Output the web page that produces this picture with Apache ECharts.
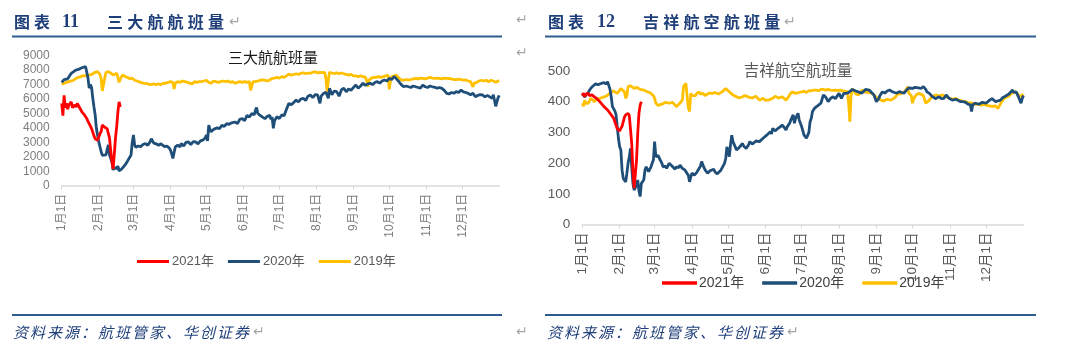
<!DOCTYPE html>
<html><head><meta charset="utf-8">
<script src="https://cdn.jsdelivr.net/npm/echarts@6/dist/echarts.min.js"></script>
<style>html,body{margin:0;padding:0;background:#fff}#c{width:1080px;height:357px}</style>
</head><body><div id="c"></div>
<script>
// ---------- DATA (day-of-year index, value) ----------
const seriesNames = ['2021年', '2020年', '2019年'];
const monthLabels = ['1月1日','2月1日','3月1日','4月1日','5月1日','6月1日','7月1日','8月1日','9月1日','10月1日','11月1日','12月1日'];
const leftYMax = 9000, leftYStep = 1000;
const rightYMax = 500, rightYStep = 100;

// 三大航航班量
const big3_2021 = [[0,5700],[1,4850],[2,6250],[3,5400],[4,5700],[5,5300],[6,5600],[7,5500],[8,5800],[9,5400],[10,5500],[11,5600],[12,5450],[13,5700],[14,5800],[15,5400],[16,5350],[17,5100],[18,5000],[19,4900],[20,4800],[21,4650],[22,4450],[23,4300],[24,4200],[25,3950],[26,3850],[27,3450],[28,3250],[29,3200],[30,3150],[31,3100],[32,3600],[33,3750],[34,4200],[35,4100],[36,4050],[37,4150],[38,3950],[39,3850],[40,3300],[41,2400],[42,1700],[43,1150],[44,2200],[45,3300],[46,4100],[47,5100],[48,5800],[49,5450]];
const big3_2020 = [[0,7150],[2,7350],[3,7440],[5,7400],[6,7450],[8,7780],[10,7900],[12,8010],[14,8050],[16,8130],[18,8200],[20,8240],[21,8200],[22,7450],[23,6750],[24,7000],[25,6800],[26,6050],[27,5450],[28,4900],[29,3970],[30,3500],[31,3050],[32,2700],[33,2350],[34,2100],[35,2010],[37,2130],[38,2500],[39,2820],[40,2130],[41,1900],[42,1660],[43,1090],[44,1250],[46,1200],[47,1350],[48,1030],[50,1150],[51,1080],[53,1430],[55,1700],[56,1780],[58,2130],[59,3000],[60,3510],[61,2820],[62,2650],[64,2750],[66,2700],[68,2850],[70,2920],[72,2800],[74,3050],[75,3250],[77,2950],[79,2900],[81,2800],[83,2900],[86,2700],[88,2750],[90,2600],[91,2460],[92,2200],[93,1890],[94,2300],[95,2690],[97,2800],[99,2700],[100,2920],[102,2750],[104,3000],[106,3030],[108,2850],[110,3050],[112,3030],[114,2900],[116,3100],[118,3150],[120,3300],[121,3500],[122,3100],[123,4190],[124,3900],[125,3730],[127,3900],[128,3840],[130,4000],[132,3950],[134,4190],[136,4100],[138,4300],[140,4250],[142,4350],[145,4410],[147,4300],[149,4600],[151,4640],[153,4500],[155,4870],[157,4750],[159,5000],[161,4900],[162,5210],[163,5420],[164,5000],[166,4870],[168,4750],[170,4640],[172,4800],[174,4870],[175,4600],[176,4750],[177,3970],[178,4500],[180,4780],[182,4650],[184,4900],[186,4850],[188,5300],[190,5700],[192,5600],[194,5750],[196,5930],[198,5800],[200,6000],[202,6050],[204,5900],[206,6200],[208,6280],[210,6100],[212,6300],[214,6280],[216,5700],[217,6200],[219,6390],[221,6470],[223,6050],[224,6740],[226,6300],[228,6550],[230,6510],[232,6200],[234,6650],[236,6740],[238,6500],[240,6700],[242,6600],[244,6800],[246,6970],[248,6750],[250,6900],[252,7090],[254,6950],[256,7050],[258,7090],[260,7000],[262,7150],[264,7200],[266,7100],[268,7250],[270,7320],[272,7250],[274,7430],[276,7350],[278,7550],[280,7400],[282,7200],[284,7000],[286,6850],[288,6900],[290,6850],[292,6800],[294,6900],[296,6850],[298,6800],[300,6750],[302,6970],[304,6850],[306,6800],[308,6900],[310,6850],[312,6820],[314,6750],[316,6800],[318,6740],[320,6600],[322,6390],[324,6350],[326,6450],[328,6400],[330,6510],[332,6450],[334,6620],[336,6500],[338,6450],[340,6390],[342,6300],[344,6400],[346,6160],[348,6250],[350,6300],[352,6280],[354,6150],[356,6250],[358,6150],[360,6050],[361,6300],[362,5900],[363,5500],[364,5800],[365,6100],[366,6250]];
const big3_2019 = [[0,7020],[2,7090],[4,7150],[6,7200],[8,7250],[10,7300],[12,7440],[14,7500],[16,7550],[18,7620],[20,7600],[22,7650],[24,7670],[26,7750],[28,7850],[30,7900],[31,7850],[32,7700],[33,7400],[34,6560],[35,7000],[36,7440],[37,7850],[39,7890],[40,7900],[41,7800],[43,7670],[44,7700],[46,7780],[47,7500],[48,7150],[49,7400],[51,7670],[53,7560],[55,7500],[57,7400],[59,7440],[61,7300],[63,7250],[64,7200],[66,7150],[68,7100],[70,7090],[72,7050],[74,7000],[75,6970],[77,7050],[79,7000],[81,7050],[83,7000],[85,7100],[87,7090],[89,7150],[91,7200],[93,7150],[94,6700],[95,7100],[97,7200],[99,7150],[101,7250],[103,7200],[105,7150],[107,7100],[109,7050],[111,7200],[113,7150],[115,7200],[117,7200],[119,7250],[121,7300],[123,7150],[125,7090],[127,7250],[129,7200],[131,7150],[133,7200],[135,7250],[137,7200],[139,7250],[141,7150],[143,7200],[145,7090],[147,7150],[149,7200],[151,7150],[153,7200],[155,7150],[157,7200],[158,6600],[159,6900],[160,7200],[162,7200],[164,7250],[166,7300],[168,7320],[170,7300],[172,7250],[174,7320],[176,7430],[178,7450],[180,7500],[182,7450],[184,7550],[186,7500],[188,7600],[190,7730],[192,7650],[194,7700],[196,7750],[198,7700],[200,7780],[202,7820],[204,7750],[206,7800],[208,7780],[210,7850],[212,7890],[214,7800],[216,7850],[218,7820],[220,7850],[221,7400],[222,6510],[223,7300],[224,7850],[226,7800],[228,7750],[230,7820],[232,7750],[234,7800],[236,7750],[238,7700],[240,7660],[242,7700],[244,7600],[246,7600],[248,7550],[250,7600],[252,7550],[254,7500],[255,7300],[256,6850],[257,7300],[259,7450],[261,7500],[263,7500],[265,7550],[267,7500],[269,7550],[271,7600],[273,7660],[274,6670],[275,7300],[276,7550],[278,7600],[280,7660],[282,7450],[284,7320],[286,7300],[288,7350],[290,7320],[292,7350],[294,7400],[296,7430],[298,7400],[300,7450],[302,7430],[304,7400],[306,7450],[308,7500],[310,7450],[312,7430],[314,7450],[316,7430],[318,7400],[320,7450],[322,7430],[324,7420],[326,7400],[328,7350],[330,7350],[332,7380],[334,7350],[336,7300],[338,7320],[340,7250],[342,7200],[343,7000],[344,6850],[345,7100],[347,7150],[349,7250],[351,7300],[353,7250],[355,7300],[357,7200],[359,7300],[361,7250],[363,7150],[365,7250],[366,7250]];

// 吉祥航空航班量
const jx_2021 = [[0,420],[1,428],[2,416],[3,425],[5,427],[6,420],[8,422],[9,418],[10,416],[12,410],[13,405],[15,398],[16,395],[18,384],[19,380],[21,373],[22,368],[24,357],[26,346],[27,335],[28,324],[29,312],[30,308],[31,305],[32,313],[33,320],[34,335],[35,350],[36,357],[37,360],[38,362],[39,355],[40,351],[41,264],[42,177],[43,118],[44,112],[45,210],[46,297],[47,362],[48,389],[49,400]];
const jx_2020 = [[0,427],[1,432],[2,415],[3,422],[5,430],[6,438],[8,448],[9,454],[11,458],[13,455],[16,460],[18,462],[20,458],[21,465],[22,462],[23,440],[24,416],[25,384],[26,378],[27,370],[28,357],[29,319],[30,280],[31,253],[32,243],[33,177],[34,150],[35,145],[36,139],[37,167],[38,200],[39,221],[40,248],[41,188],[42,134],[43,112],[44,120],[45,129],[46,145],[47,110],[48,91],[49,134],[50,140],[51,145],[52,177],[53,188],[55,172],[57,188],[58,200],[59,210],[60,270],[61,221],[63,225],[64,215],[66,200],[67,188],[69,190],[70,183],[72,199],[74,192],[75,188],[77,180],[78,188],[80,185],[81,194],[83,183],[85,178],[86,177],[88,160],[89,139],[90,155],[91,167],[93,161],[95,170],[96,177],[98,190],[99,205],[101,185],[102,177],[104,167],[106,175],[107,177],[109,180],[110,172],[112,165],[113,167],[115,177],[116,178],[118,199],[119,215],[120,253],[121,240],[122,221],[123,260],[124,291],[125,270],[126,264],[128,243],[130,250],[131,253],[133,264],[134,255],[136,248],[138,260],[139,270],[141,262],[142,259],[144,272],[145,275],[147,270],[148,272],[150,281],[151,280],[153,291],[154,285],[156,302],[157,295],[158,313],[160,305],[161,302],[163,315],[164,319],[166,324],[167,318],[169,308],[170,318],[172,330],[173,340],[175,357],[176,330],[177,346],[179,362],[180,340],[182,319],[184,291],[185,285],[186,281],[187,275],[188,300],[189,335],[190,346],[191,368],[193,380],[194,384],[196,389],[198,395],[200,422],[202,415],[204,400],[206,411],[208,416],[210,410],[211,416],[213,427],[215,411],[217,427],[219,427],[221,430],[222,432],[224,440],[225,443],[227,435],[229,432],[230,432],[232,428],[233,425],[235,440],[236,443],[238,438],[240,430],[242,422],[244,400],[246,410],[247,420],[249,432],[251,428],[253,435],[255,438],[257,433],[259,430],[261,428],[263,433],[265,430],[267,428],[269,438],[271,445],[272,449],[274,443],[276,447],[277,449],[279,445],[281,443],[283,449],[285,440],[286,432],[288,427],[290,418],[291,416],[293,410],[294,411],[296,416],[298,410],[300,411],[302,422],[304,412],[305,411],[307,405],[308,405],[310,408],[312,404],[314,400],[316,400],[318,398],[320,392],[322,390],[323,368],[324,390],[326,395],[327,395],[329,392],[330,389],[332,398],[333,400],[335,395],[336,397],[338,405],[340,410],[341,411],[343,400],[345,403],[347,405],[349,414],[351,418],[352,420],[354,425],[355,427],[357,438],[358,430],[360,432],[361,427],[362,415],[363,405],[364,395],[365,410],[366,420]];
const jx_2019 = [[0,395],[1,385],[2,405],[3,395],[4,400],[5,395],[7,411],[8,405],[10,400],[12,410],[13,405],[15,411],[16,405],[18,416],[20,418],[21,422],[23,428],[24,432],[26,435],[27,438],[29,427],[30,432],[32,443],[33,440],[35,432],[36,411],[37,420],[38,449],[40,452],[41,454],[43,443],[45,447],[46,449],[48,440],[49,438],[51,438],[52,440],[54,432],[56,430],[57,427],[59,420],[60,411],[61,395],[63,388],[64,384],[66,392],[67,395],[69,398],[70,400],[72,395],[73,392],[75,398],[76,395],[78,384],[79,390],[81,395],[82,400],[83,405],[84,449],[85,455],[86,460],[87,416],[88,380],[89,368],[90,427],[91,420],[92,416],[94,420],[95,427],[97,432],[98,425],[100,427],[102,420],[103,422],[105,428],[106,432],[108,427],[110,430],[111,432],[113,425],[114,427],[116,432],[117,438],[119,443],[120,440],[122,432],[123,428],[125,422],[126,418],[128,416],[130,412],[131,411],[133,416],[135,420],[136,422],[138,415],[139,416],[141,412],[142,411],[144,418],[145,416],[147,405],[148,408],[150,411],[152,404],[153,400],[155,406],[156,405],[158,411],[160,418],[161,422],[163,412],[164,411],[166,416],[167,410],[169,405],[171,415],[172,422],[174,432],[175,430],[177,427],[178,432],[180,430],[182,432],[184,434],[186,430],[188,436],[190,435],[192,438],[194,438],[196,436],[198,440],[200,440],[202,438],[204,440],[206,438],[208,437],[210,438],[212,436],[214,438],[216,435],[218,434],[220,432],[221,395],[222,335],[223,420],[224,443],[226,432],[227,425],[229,422],[231,430],[232,438],[234,432],[236,430],[237,427],[239,430],[240,432],[242,422],[243,416],[245,411],[246,410],[248,405],[250,402],[251,400],[253,408],[254,411],[256,405],[258,410],[260,416],[262,427],[264,425],[265,422],[267,432],[269,440],[270,449],[271,427],[272,432],[273,420],[274,395],[275,410],[277,422],[279,427],[281,424],[283,420],[285,395],[286,400],[288,405],[290,416],[292,420],[294,422],[296,418],[297,416],[299,422],[301,418],[302,416],[304,413],[305,411],[307,408],[308,408],[310,411],[312,405],[314,404],[316,400],[318,401],[319,400],[321,395],[323,396],[324,395],[326,391],[327,389],[329,392],[331,389],[333,391],[335,389],[336,389],[338,386],[340,385],[341,384],[343,386],[345,378],[346,376],[348,400],[350,411],[352,415],[354,418],[356,427],[357,424],[359,432],[361,427],[362,420],[364,418],[366,425]];

// ---------- RENDER ----------
const toDate = d => new Date(2020, 0, 1 + d).getTime();
const toSeriesData = arr => arr.map(p => [toDate(p[0]), p[1]]);
const xMin = new Date(2020, 0, 1).getTime();
const xMax = new Date(2021, 0, 1).getTime();
const colors = { '2021年': '#FF0000', '2020年': '#1F4E79', '2019年': '#FFC000' };
const FONT = '"Liberation Sans", "Noto Sans CJK SC", sans-serif';
const BLUE_TEXT = '#1F3F7A';

function xAxisCfg(gridIndex, fs, color) {
  return {
    type: 'time', gridIndex, min: xMin, max: xMax, splitNumber: 12,
    minInterval: 28 * 86400000, maxInterval: 31 * 86400000,
    axisLine: { show: true, lineStyle: { color: '#d9d9d9', width: 1.5 } },
    axisTick: { show: true, length: 4, lineStyle: { color: '#d9d9d9', width: 1 } },
    splitLine: { show: false },
    axisLabel: {
      rotate: 90, margin: 8, fontSize: fs, color, fontFamily: FONT, hideOverlap: false,
      formatter: v => { const d = new Date(v); return d.getFullYear() === 2020 ? monthLabels[d.getMonth()] : ''; }
    }
  };
}
function yAxisCfg(gridIndex, max, step, fs, color) {
  return {
    type: 'value', gridIndex, min: 0, max, interval: step,
    axisLine: { show: false }, axisTick: { show: false }, splitLine: { show: false },
    axisLabel: { fontSize: fs, color, margin: 12, fontFamily: FONT, formatter: v => String(v) }
  };
}
function lineSeries(name, idx, data) {
  return {
    type: 'line', name, xAxisIndex: idx, yAxisIndex: idx, data: toSeriesData(data),
    symbol: 'none', showSymbol: false, animation: false,
    lineStyle: { width: 2.8, color: colors[name] }, itemStyle: { color: colors[name] },
    z: name === '2021年' ? 5 : (name === '2020年' ? 4 : 3)
  };
}
function spaced(str, x, y, step, style) {
  return Array.from(str).map((ch, i) => ({
    type: 'text', x: x + i * step, y, silent: true,
    style: Object.assign({ text: ch, verticalAlign: 'middle', align: 'left' }, style)
  }));
}
const headStyle = { fontSize: 16, fontWeight: 'bold', fill: BLUE_TEXT, fontFamily: '"Noto Sans CJK SC", sans-serif' };
const numStyle = { fontSize: 18, fontWeight: 'bold', fill: BLUE_TEXT, fontFamily: '"Liberation Serif", serif' };
const footStyle = { fontSize: 15, fontStyle: 'italic', fill: BLUE_TEXT, fontFamily: '"Noto Sans CJK SC", sans-serif' };
const markStyle = { fontSize: 14, fill: '#a6a6a6', fontFamily: '"DejaVu Sans", sans-serif' };

const graphics = [].concat(
  spaced('图表', 14, 22, 20, headStyle),
  [{ type: 'text', x: 62, y: 22, style: Object.assign({ text: '11', verticalAlign: 'middle' }, numStyle) }],
  spaced('三大航航班量', 107, 22, 20.2, headStyle),
  [{ type: 'text', x: 229, y: 22, style: Object.assign({ text: '↵', verticalAlign: 'middle' }, markStyle) }],
  spaced('图表', 548, 22, 20, headStyle),
  [{ type: 'text', x: 597, y: 22, style: Object.assign({ text: '12', verticalAlign: 'middle' }, numStyle) }],
  spaced('吉祥航空航班量', 643, 22, 20.2, headStyle),
  [{ type: 'text', x: 784, y: 22, style: Object.assign({ text: '↵', verticalAlign: 'middle' }, markStyle) }],
  [{ type: 'text', x: 516, y: 20, style: Object.assign({ text: '↵', verticalAlign: 'middle' }, markStyle) }],
  [{ type: 'text', x: 516, y: 53, style: Object.assign({ text: '↵', verticalAlign: 'middle' }, markStyle) }],
  [{ type: 'text', x: 516, y: 332, style: Object.assign({ text: '↵', verticalAlign: 'middle' }, markStyle) }],
  [{ type: 'line', shape: { x1: 12, y1: 36.5, x2: 502, y2: 36.5 }, style: { stroke: '#2F5C8F', lineWidth: 1.8 } }],
  [{ type: 'line', shape: { x1: 545, y1: 36.5, x2: 1036, y2: 36.5 }, style: { stroke: '#2F5C8F', lineWidth: 1.8 } }],
  [{ type: 'line', shape: { x1: 12, y1: 315, x2: 502, y2: 315 }, style: { stroke: '#2F5C8F', lineWidth: 1.8 } }],
  [{ type: 'line', shape: { x1: 545, y1: 315, x2: 1036, y2: 315 }, style: { stroke: '#2F5C8F', lineWidth: 1.8 } }],
  spaced('资料来源：航班管家、华创证券', 13, 332, 17, footStyle),
  [{ type: 'text', x: 253, y: 332, style: Object.assign({ text: '↵', verticalAlign: 'middle' }, markStyle) }],
  spaced('资料来源：航班管家、华创证券', 547, 332, 17, footStyle),
  [{ type: 'text', x: 787, y: 332, style: Object.assign({ text: '↵', verticalAlign: 'middle' }, markStyle) }],
  [{ type: 'text', x: 273, y: 59, style: { text: '三大航航班量', align: 'center', verticalAlign: 'middle', fontSize: 15, fill: '#1a1a1a', fontFamily: FONT } }],
  [{ type: 'text', x: 798, y: 72, style: { text: '吉祥航空航班量', align: 'center', verticalAlign: 'middle', fontSize: 15.5, fill: '#595959', fontFamily: FONT } }]
);

const chart = echarts.init(document.getElementById('c'), null, { renderer: 'canvas' });
chart.setOption({
  animation: false,
  backgroundColor: '#fff',
  grid: [
    { left: 61.7, right: 1080 - 499.3, top: 55.7, bottom: 357 - 185.7, containLabel: false },
    { left: 582.3, right: 1080 - 1023.4, top: 71, bottom: 357 - 224.5, containLabel: false }
  ],
  xAxis: [xAxisCfg(0, 12, '#7f7f7f'), xAxisCfg(1, 13.5, '#595959')],
  yAxis: [yAxisCfg(0, leftYMax, leftYStep, 12, '#7f7f7f'), yAxisCfg(1, rightYMax, rightYStep, 13.5, '#595959')],
  legend: [
    { data: seriesNames, left: 137, top: 255, padding: 0, icon: 'rect', itemWidth: 32, itemHeight: 3, itemGap: 14,
      textStyle: { fontSize: 13, color: '#595959', fontFamily: FONT, padding: [0, 0, 0, -2] }, selectedMode: false },
    { data: seriesNames, left: 662, top: 276, padding: 0, icon: 'rect', itemWidth: 35, itemHeight: 3.5, itemGap: 18,
      textStyle: { fontSize: 14, color: '#404040', fontFamily: FONT, padding: [0, 0, 0, -3] }, selectedMode: false }
  ],
  series: [
    lineSeries('2019年', 0, big3_2019), lineSeries('2020年', 0, big3_2020), lineSeries('2021年', 0, big3_2021),
    lineSeries('2019年', 1, jx_2019), lineSeries('2020年', 1, jx_2020), lineSeries('2021年', 1, jx_2021)
  ],
  graphic: graphics
});
</script>
</body></html>
